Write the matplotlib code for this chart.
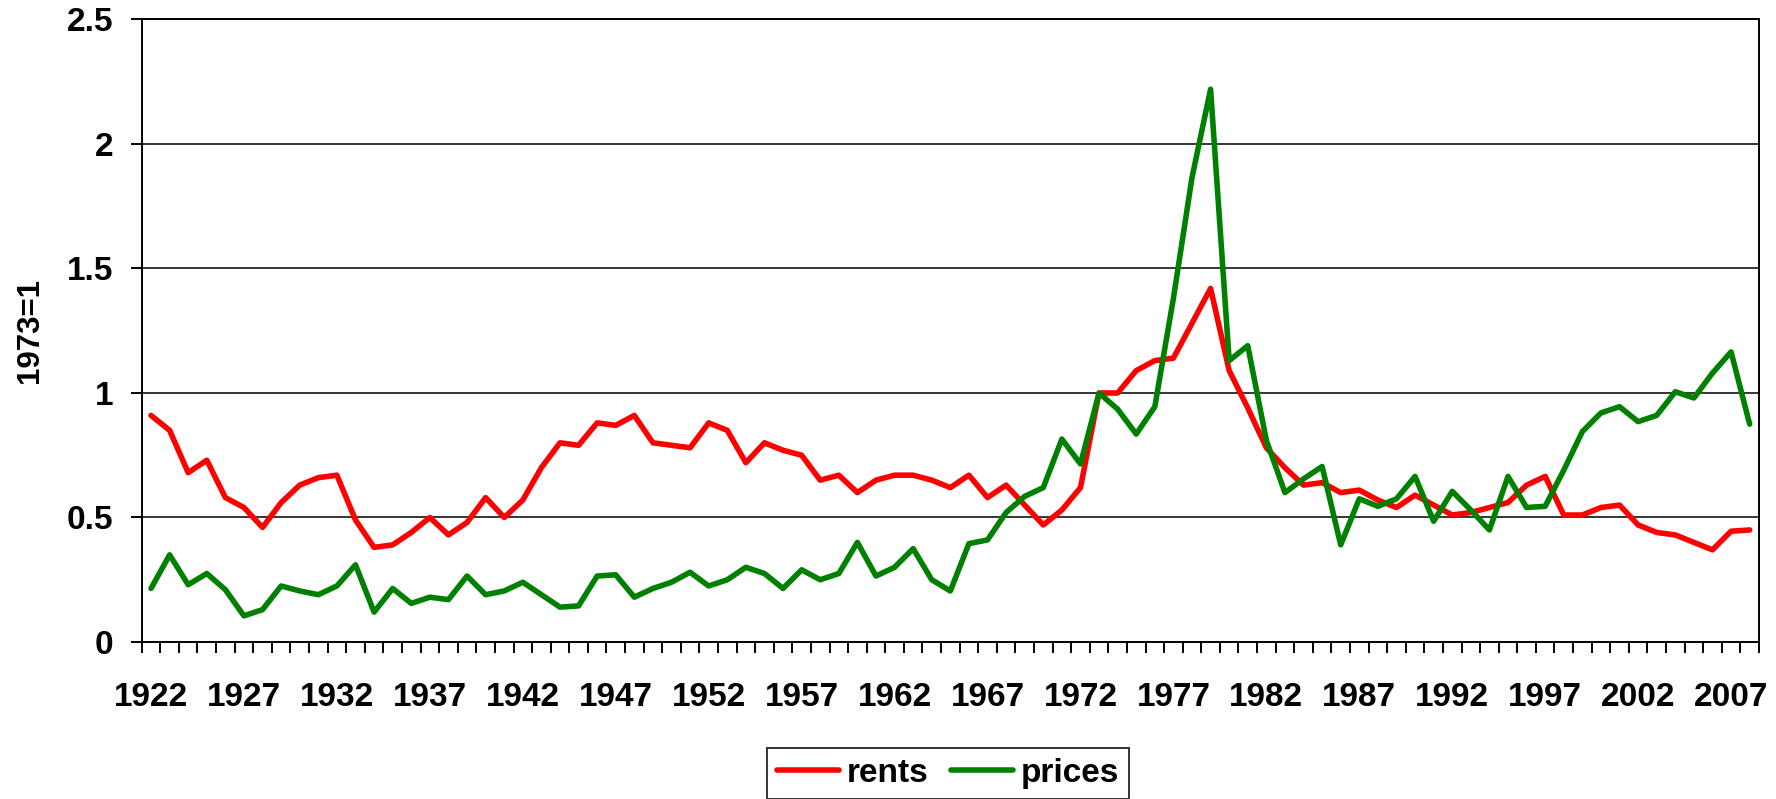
import matplotlib
matplotlib.use('Agg')
import matplotlib.pyplot as plt
import numpy as np

plt.rcParams['font.family'] = ['Liberation Sans', 'DejaVu Sans']
plt.rcParams['font.weight'] = 'bold'

years = list(range(1922, 2009))

# 1973 = 1
rents = [0.91, 0.85, 0.68, 0.73, 0.58, 0.54, 0.46, 0.56, 0.63, 0.66,
         0.67, 0.49, 0.38, 0.39, 0.44, 0.50, 0.43, 0.48, 0.58, 0.50,
         0.57, 0.70, 0.80, 0.79, 0.88, 0.87, 0.91, 0.80, 0.79, 0.78,
         0.88, 0.85, 0.72, 0.80, 0.77, 0.75, 0.65, 0.67, 0.60, 0.65,
         0.67, 0.67, 0.65, 0.62, 0.67, 0.58, 0.63, 0.55, 0.47, 0.53,
         0.62, 1.00, 1.00, 1.09, 1.13, 1.14, 1.28, 1.42, 1.09, 0.94,
         0.78, 0.70, 0.63, 0.64, 0.60, 0.61, 0.57, 0.54, 0.59, 0.55,
         0.51, 0.52, 0.54, 0.56, 0.63, 0.665, 0.51, 0.51, 0.54, 0.55,
         0.47, 0.44, 0.43, 0.40, 0.37, 0.445, 0.45]

prices = [0.215, 0.35, 0.23, 0.275, 0.21, 0.105, 0.13, 0.225, 0.205, 0.19,
          0.225, 0.31, 0.12, 0.215, 0.155, 0.18, 0.17, 0.265, 0.19, 0.205,
          0.24, 0.19, 0.14, 0.145, 0.265, 0.27, 0.18, 0.215, 0.24, 0.28,
          0.225, 0.25, 0.30, 0.275, 0.215, 0.29, 0.25, 0.275, 0.40, 0.265,
          0.30, 0.375, 0.25, 0.205, 0.395, 0.41, 0.52, 0.585, 0.62, 0.815,
          0.715, 1.00, 0.935, 0.835, 0.945, 1.38, 1.865, 2.22, 1.13, 1.19,
          0.81, 0.60, 0.655, 0.705, 0.39, 0.575, 0.545, 0.575, 0.665, 0.485,
          0.605, 0.53, 0.45, 0.665, 0.54, 0.545, 0.69, 0.845, 0.92, 0.945,
          0.885, 0.91, 1.005, 0.98, 1.08, 1.165, 0.875]

tick_years = list(range(1922, 2009, 5))
y_ticks = [0, 0.5, 1, 1.5, 2, 2.5]
y_labels = ['0', '0.5', '1', '1.5', '2', '2.5']

fig = plt.figure(figsize=(17.76, 7.99), dpi=100)
ax = fig.add_axes([0.0798, 0.1965, 0.9106, 0.7791])

ax.plot(years, rents, color='#FF0000', lw=4.0, label='rents',
        solid_joinstyle='round', solid_capstyle='round')
ax.plot(years, prices, color='#008000', lw=4.0, label='prices',
        solid_joinstyle='round', solid_capstyle='round')

ax.set_xlim(years[0] - 0.5, years[-1] + 0.5)
ax.set_ylim(0, 2.5)

ax.set_yticks(y_ticks)
ax.set_yticklabels(y_labels)
ax.yaxis.grid(True, color='black', lw=1.1)
ax.set_axisbelow(True)

# labels every 5 years, small ticks between the yearly categories
ax.set_xticks(tick_years)
ax.set_xticks(np.arange(years[0] - 0.5, years[-1] + 1), minor=True)
ax.tick_params(axis='x', which='major', length=0, pad=29, labelsize=24)
ax.tick_params(axis='x', which='minor', length=8, width=1.4, direction='out')
ax.tick_params(axis='y', which='major', length=8, width=1.4, pad=12.5, labelsize=24)

for s in ax.spines.values():
    s.set_linewidth(1.4)
    s.set_color('black')

ax.set_ylabel('1973=1', fontsize=22.5, fontweight='bold', labelpad=16)

leg = fig.legend(loc='upper center', bbox_to_anchor=(0.5338, 0.0638), ncol=2,
                 fontsize=24, frameon=True, fancybox=False, edgecolor='black',
                 handlelength=1.86, handletextpad=0.25, columnspacing=0.65,
                 borderpad=0.3, borderaxespad=0)
leg.get_frame().set_linewidth(1.4)
for t in leg.get_texts():
    t.set_fontweight('bold')
for h in leg.get_lines():
    h.set_solid_capstyle('round')

fig.savefig('out.png', dpi=100)
